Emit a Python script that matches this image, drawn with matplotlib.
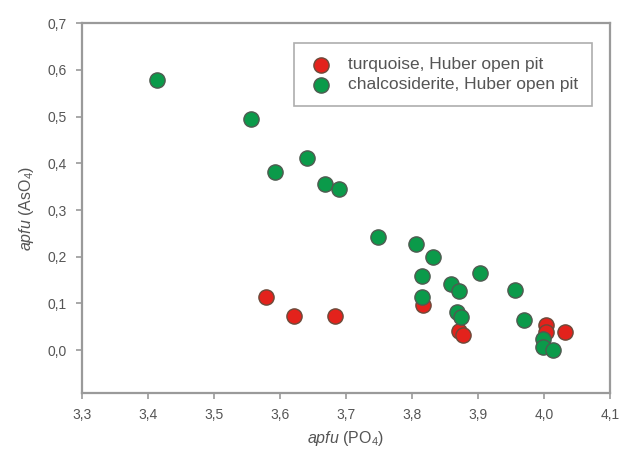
import matplotlib.pyplot as plt
from matplotlib.ticker import FuncFormatter

plt.rcParams["font.family"] = ["Liberation Sans", "DejaVu Sans"]
plt.rcParams["mathtext.fontset"] = "custom"
plt.rcParams["mathtext.rm"] = "Liberation Sans"
plt.rcParams["mathtext.it"] = "Liberation Sans:italic"

# apfu values
turq_po4 = [3.579, 3.621, 3.684, 3.817, 3.871, 3.877, 4.004, 4.003, 4.032]
turq_aso4 = [0.114, 0.073, 0.073, 0.096, 0.041, 0.032, 0.055, 0.039, 0.039]

chalc_po4 = [3.414, 3.556, 3.641, 3.593, 3.668, 3.689, 3.748, 3.806, 3.832,
             3.815, 3.904, 3.859, 3.872, 3.957, 3.815, 3.869, 3.875, 3.970,
             3.998, 3.998, 4.014]
chalc_aso4 = [0.578, 0.495, 0.412, 0.381, 0.355, 0.346, 0.242, 0.227, 0.200,
              0.158, 0.166, 0.141, 0.127, 0.128, 0.113, 0.082, 0.071, 0.064,
              0.025, 0.007, 0.001]

x_ticks = [3.3, 3.4, 3.5, 3.6, 3.7, 3.8, 3.9, 4.0, 4.1]
y_ticks = [0.0, 0.1, 0.2, 0.3, 0.4, 0.5, 0.6, 0.7]

fig = plt.figure(figsize=(6.21, 4.53), dpi=100)
ax = fig.add_axes([0.132, 0.133, 0.85, 0.816])

ax.scatter(turq_po4, turq_aso4, s=120, color="#e3221c", edgecolors="#6b4a3a",
           linewidths=1.0, label="turquoise, Huber open pit", zorder=2)
ax.scatter(chalc_po4, chalc_aso4, s=120, color="#0b9a4a", edgecolors="#4f5a50",
           linewidths=1.0, label="chalcosiderite, Huber open pit", zorder=3)

ax.set_xlim(3.3, 4.1)
ax.set_ylim(-0.091, 0.7)
ax.set_xticks(x_ticks)
ax.set_yticks(y_ticks)
comma = FuncFormatter(lambda v, pos: f"{v:.1f}".replace(".", ","))
ax.xaxis.set_major_formatter(comma)
ax.yaxis.set_major_formatter(comma)

for sp in ax.spines.values():
    sp.set_color("#9a9a9a")
    sp.set_linewidth(1.6)
ax.tick_params(direction="out", length=4, width=1.2, color="#9a9a9a",
               labelcolor="#555555", labelsize=10, pad=7)

ax.set_xlabel(r"$\it{apfu}$ (PO$_4$)", fontsize=11.5, color="#555555", labelpad=5)
ax.set_ylabel(r"$\it{apfu}$ (AsO$_4$)", fontsize=11.5, color="#555555", labelpad=8)

leg = ax.legend(loc="upper right", bbox_to_anchor=(0.966, 0.946), borderaxespad=0,
                fontsize=12.5, frameon=True, fancybox=False, handletextpad=0.8,
                borderpad=0.8, labelspacing=0.3, handlelength=1.5)
leg.get_frame().set_edgecolor("#9a9a9a")
leg.get_frame().set_linewidth(1.2)
for t in leg.get_texts():
    t.set_color("#555555")

fig.savefig("out.png", dpi=100)
